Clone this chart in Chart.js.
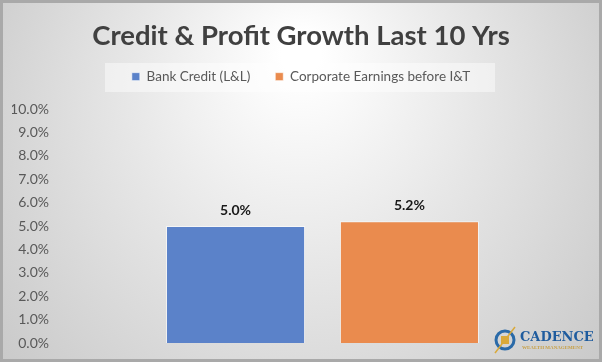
<!DOCTYPE html>
<html>
<head>
<meta charset="utf-8">
<script src="https://cdn.jsdelivr.net/npm/chart.js@4"></script>
<style>
  html, body { margin: 0; padding: 0; background: #d6d6d6; }
  #wrap { width: 602px; height: 362px; }
</style>
</head>
<body>
<div id="wrap"><canvas id="growth-chart" width="602" height="362"></canvas></div>
<script>
// Credit vs profit growth, one category, two series
const categories = ['Last 10 Yrs'];
const seriesNames = ['Bank Credit (L&L)', 'Corporate Earnings before I&T'];
const bankCredit = [5.0];
const corporateEarnings = [5.2];
const yTicks = [0, 1, 2, 3, 4, 5, 6, 7, 8, 9, 10];

const FONT = 'Lato, "Open Sans", sans-serif';
const LEGEND_HEIGHT = 46;   // keeps plot top at the 10% line
const LEGEND_TEXT_Y = 78;

// gray radial background + legend panel, and legend placement
const backgroundPlugin = {
    id: 'background',
    afterInit(chart) {
        const legend = chart.legend;
        const origFit = legend.fit;
        legend.fit = function () {
            origFit.call(this);
            this.height = LEGEND_HEIGHT;
        };
    },
    beforeDraw(chart) {
        const ctx = chart.ctx;
        const w = chart.width, h = chart.height;
        ctx.save();
        const g = ctx.createRadialGradient(w / 2, h * 0.15, 20, w / 2, h * 0.4, w * 0.62);
        g.addColorStop(0, '#ffffff');
        g.addColorStop(0.45, '#e6e6e6');
        g.addColorStop(1, '#c9c9c9');
        ctx.fillStyle = g;
        ctx.fillRect(0, 0, w, h);
        ctx.strokeStyle = '#a9a9a9';
        ctx.lineWidth = 3;
        ctx.strokeRect(1.5, 1.5, w - 3, h - 3);

        ctx.fillStyle = 'rgba(255,255,255,0.45)';
        ctx.fillRect(105, 63, 390, 29);
        ctx.restore();

        // move legend row down/up to match the panel
        const lg = chart.legend;
        const pad = lg.options.labels.padding;
        const itemH = lg.options.labels.font.size * 1.2;
        lg.top = LEGEND_TEXT_Y - pad - itemH / 2;
    }
};

// value labels above the bars
const valueLabelPlugin = {
    id: 'valueLabels',
    afterDatasetsDraw(chart) {
        const ctx = chart.ctx;
        ctx.save();
        ctx.font = 'bold 14px ' + FONT;
        ctx.fillStyle = '#1a1a1a';
        ctx.textAlign = 'center';
        ctx.textBaseline = 'middle';
        chart.data.datasets.forEach((ds, i) => {
            chart.getDatasetMeta(i).data.forEach((bar, j) => {
                ctx.fillText(ds.data[j].toFixed(1) + '%', bar.x, bar.y - 16);
            });
        });
        ctx.restore();
    }
};

// company mark in the corner
const logoPlugin = {
    id: 'logo',
    afterDraw(chart) {
        const ctx = chart.ctx;
        const cx = 505, cy = 340;
        ctx.save();
        ctx.strokeStyle = '#2a6aa8';
        ctx.lineWidth = 3;
        ctx.beginPath();
        ctx.arc(cx, cy, 9, 0, Math.PI * 2);
        ctx.stroke();
        ctx.fillStyle = '#d9a93a';
        ctx.fillRect(cx - 4, cy - 4, 8, 8);
        ctx.strokeStyle = '#d9a93a';
        ctx.lineWidth = 1.5;
        ctx.beginPath();
        ctx.moveTo(cx - 10, cy + 13);
        ctx.lineTo(cx + 10, cy - 13);
        ctx.stroke();

        ctx.fillStyle = '#1f5c9e';
        ctx.font = 'bold 13px "DejaVu Serif", "Liberation Serif", serif';
        ctx.textBaseline = 'alphabetic';
        ctx.textAlign = 'left';
        ctx.fillText('CADENCE', 520, 341);
        ctx.fillStyle = '#c7a046';
        ctx.font = 'bold 5px "Liberation Serif", serif';
        ctx.fillText('WEALTH MANAGEMENT', 522, 349);
        ctx.restore();
    }
};

const ctx = document.getElementById('growth-chart').getContext('2d');
const chart = new Chart(ctx, {
    type: 'bar',
    data: {
        labels: categories,
        datasets: [{
            label: seriesNames[0],
            data: bankCredit,
            backgroundColor: '#5b82c9',
            borderColor: 'rgba(255,255,255,0.6)',
            borderWidth: 1
        }, {
            label: seriesNames[1],
            data: corporateEarnings,
            backgroundColor: '#ea8b4e',
            borderColor: 'rgba(255,255,255,0.6)',
            borderWidth: 1
        }]
    },
    options: {
        responsive: false,
        animation: false,
        devicePixelRatio: 1,
        layout: { padding: { left: 12, right: 12, top: 0, bottom: 19 } },
        datasets: { bar: { categoryPercentage: 0.65, barPercentage: 0.8 } },
        plugins: {
            title: {
                display: true,
                text: 'Credit & Profit Growth Last 10 Yrs',
                color: '#404040',
                font: { family: FONT, size: 27.5, weight: 'bold' },
                padding: { top: 20, bottom: 10 }
            },
            legend: {
                display: true,
                labels: {
                    color: '#595959',
                    font: { family: FONT, size: 13.5 },
                    boxWidth: 8,
                    boxHeight: 8,
                    padding: 25
                }
            },
            tooltip: { enabled: false }
        },
        scales: {
            x: { display: false },
            y: {
                min: yTicks[0],
                max: yTicks[yTicks.length - 1],
                afterFit(scale) { scale.width = 43; },
                afterBuildTicks(scale) { scale.ticks = yTicks.map(v => ({ value: v })); },
                grid: { display: false, drawTicks: false },
                border: { display: false },
                ticks: {
                    color: '#595959',
                    padding: 6,
                    font: { family: FONT, size: 14 },
                    callback: v => v.toFixed(1) + '%'
                }
            }
        }
    },
    plugins: [backgroundPlugin, valueLabelPlugin, logoPlugin]
});
</script>
</body>
</html>
